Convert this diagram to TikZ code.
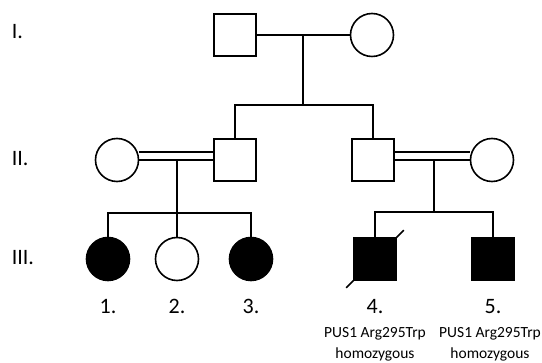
\documentclass[tikz,border=0pt]{standalone}
\usepackage{fontspec}
\setmainfont{Carlito}
\usepackage{tikz}
\usetikzlibrary{positioning}

\tikzset{
  male/.style={draw,minimum size=42pt,inner sep=0pt},
  female/.style={draw,circle,minimum size=43pt,inner sep=0pt},
  affected/.style={fill=black},
  genlabel/.style={font=\fontsize{22}{24}\selectfont,anchor=base west,inner sep=0pt},
  numlabel/.style={font=\fontsize{22}{24}\selectfont,anchor=base,inner sep=0pt},
  genotype/.style={font=\fontsize{15.5}{21}\selectfont,align=center,anchor=north,inner sep=0pt}
}

\begin{document}
\begin{tikzpicture}[x=1pt,y=-1pt,line width=1.6pt]
  \useasboundingbox (0,0) rectangle (542,363);
  % generation labels
  \node[genlabel] (gI) at (11,39) {I.};
  \node[genlabel] (gII) at (11,166) {II.};
  \node[genlabel] (gIII) at (11,265) {III.};

  % generation I
  \node[male] (I1) at (235,35) {};
  \node[female] (I2) at (372,35) {};
  \draw (I1) -- (I2);
  \coordinate (m1) at (303,35);
  \coordinate (s1) at (303,105);
  \draw (m1) -- (s1);

  % generation II
  \node[female] (II1) at (117,160) {};
  \node[male] (II2) at (235,160) {};
  \node[male] (II3) at (373,160) {};
  \node[female] (II4) at (492,160) {};
  \draw (II2.north) |- (s1) -| (II3.north);
  % consanguineous unions
  \draw (II1) -- (II2);
  \draw ([yshift=8pt]II1.east) -- ([yshift=8pt]II2.west);
  \draw (II3) -- (II4);
  \draw ([yshift=8pt]II3.east) -- ([yshift=8pt]II4.west);
  \coordinate (m2) at (177,160);
  \coordinate (s2) at (177,213);
  \coordinate (m3) at (434,160);
  \coordinate (s3) at (434,212);
  \draw (m2) -- (s2);
  \draw (m3) -- (s3);

  % generation III
  \node[female,affected] (III1) at (108,259) {};
  \node[female] (III2) at (177,259) {};
  \node[female,affected] (III3) at (251,259) {};
  \node[male,affected] (III4) at (375,259) {};
  \node[male,affected] (III5) at (493,259) {};
  \draw (III1.north) |- (s2) -| (III3.north);
  \draw (s2) -- (III2);
  \draw (III4.north) |- (s3) -| (III5.north);
  % deceased
  \draw ([shift={(-7pt,-7pt)}]III4.south west) -- ([shift={(7pt,7pt)}]III4.north east);

  % numbers
  \foreach \p/\n in {III1/1,III2/2,III3/3,III4/4,III5/5}
    \node[numlabel] (n\n) at (\p |- 0,314) {\n.};
  \node[genotype] (g4) at (375,327) {PUS1 Arg295Trp\\homozygous};
  \node[genotype] (g5) at (490,327) {PUS1 Arg295Trp\\homozygous};
\end{tikzpicture}
\end{document}
